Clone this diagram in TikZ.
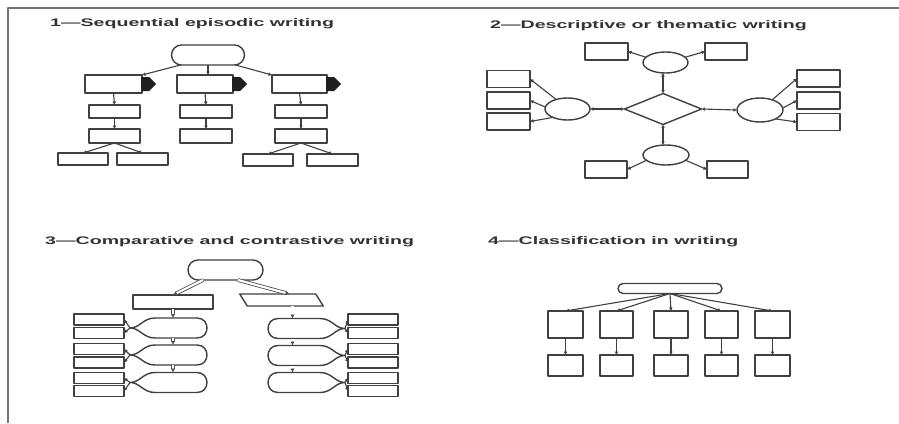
\documentclass[tikz,border=0pt]{standalone}
\usepackage{fontspec}
\newfontfamily\tfont{Liberation Sans}
\usetikzlibrary{shapes.geometric,arrows.meta,calc}
\tikzset{lobe/.pic={
  \draw[ln] (0,0) .. controls (10,0) and (13,-10) .. (25,-10) -- (67,-10)
     .. controls (80.3,-10) and (80.3,10) .. (67,10) -- (25,10)
     .. controls (13,10) and (10,0) .. (0,0) -- cycle;
  \coordinate (-tip) at (0,0);
  \node[minimum width=70, minimum height=20, inner sep=0pt, outer sep=0pt] (-body) at (42,0) {};
}}
\begin{document}
\begin{tikzpicture}[x=1pt,y=-1pt,line join=round,
  ln/.style={draw=black!75, line width=1.4pt},
  bx/.style={ln, rectangle, inner sep=0pt, outer sep=0pt},
  rbx/.style={bx, rounded corners=#1},
  ell/.style={ln, ellipse, inner sep=0pt, outer sep=0pt},
  lnk/.style={draw=black!75, line width=1.1pt, -{Latex[length=3.5pt,width=3.8pt]}},
  lnkb/.style={draw=black!75, line width=1.1pt, {Latex[length=3.5pt,width=3.8pt]}-{Latex[length=3.5pt,width=3.8pt]}},
  dbl/.style={draw=black!70, line width=0.8pt, double=white, double distance=2.2pt, -{Latex[length=4pt,width=4.5pt]}},
  ttl/.style={anchor=base west, inner sep=0pt, text=black!80, font=\tfont\bfseries\fontsize{11}{13}\selectfont},
  harrow/.style={fill=black!88}]
\useasboundingbox (0,0) rectangle (899,423);
\fill[white] (0,0) rectangle (899,423);
% frame
\draw[black!55, line width=2pt] (8,423) -- (8,8) -- (899,8);

% titles
\node[ttl] (t1) at (50,27) {\scalebox{1.78}[1]{1—Sequential episodic writing}};
\node[ttl] (t2) at (490,28) {\scalebox{1.78}[1]{2—Descriptive or thematic writing}};
\node[ttl] (t3t) at (45,244) {\scalebox{1.78}[1]{3—Comparative and contrastive writing}};
\node[ttl] (t4) at (488,244) {\scalebox{1.78}[1]{4—Classification in writing}};

% ---------- panel 1
\node[rbx=10pt, minimum width=73, minimum height=20] (p1) at (208,55) {};
\node[bx, minimum width=57, minimum height=18] (a2) at (113.5,84) {};
\node[bx, minimum width=56, minimum height=18] (b2) at (205,84) {};
\node[bx, minimum width=55, minimum height=18] (c2) at (299.5,84) {};
\node[bx, minimum width=51, minimum height=13] (a3) at (114.5,111.5) {};
\node[bx, minimum width=52, minimum height=13] (b3) at (206,111.5) {};
\node[bx, minimum width=52, minimum height=13] (c3) at (301,111.5) {};
\node[bx, minimum width=51, minimum height=14] (a4) at (114.5,136) {};
\node[bx, minimum width=52, minimum height=14] (b4) at (206,136) {};
\node[bx, minimum width=52, minimum height=14] (c4) at (301,136) {};
\node[bx, minimum width=50, minimum height=12] (a5) at (83,159) {};
\node[bx, minimum width=51, minimum height=12] (a6) at (142.5,159) {};
\node[bx, minimum width=50, minimum height=12] (c5) at (268,160) {};
\node[bx, minimum width=51, minimum height=12] (c6) at (332.5,160) {};
\foreach \n in {a2,b2,c2}
  \fill[harrow] ($(\n.east)+(-1,-7)$) -- ++(8,0) -- ++(7,7) -- ++(-7,7) -- ++(-8,0) -- cycle;
\draw[lnk] (p1.200) -- (a2.north east);
\draw[lnk] (p1.340) -- (c2.north west);
\draw[lnk] (p1.south) -- (p1.south |- b2.north);
\draw[lnk] (a2.south) -- (a3.north);
\draw[lnk] (a3.south) -- (a4.north);
\draw[lnk] (b2.south) -- (b3.north);
\draw[lnk] (b3.south) -- (b4.north);
\draw[lnk] (c2.south) -- (c3.north);
\draw[lnk] (c3.south) -- (c4.north);
\draw[lnk] (a4.south) -- (a5.north);
\draw[lnk] (a4.south) -- (a6.north);
\draw[lnk] (c4.south) -- (c5.north);
\draw[lnk] (c4.south) -- (c6.north);

% ---------- panel 2
\node[ln, diamond, minimum width=77, minimum height=31, inner sep=0pt, outer sep=0pt] (dm) at (663,109) {};
\node[ell, minimum width=45, minimum height=21] (et) at (665.5,62.5) {};
\node[ell, minimum width=46, minimum height=20] (eb) at (666,155) {};
\node[ell, minimum width=45, minimum height=22] (el) at (567.5,109) {};
\node[ell, minimum width=46, minimum height=24] (er) at (760,110) {};
\node[bx, minimum width=43, minimum height=17] (tl) at (606.5,51.5) {};
\node[bx, minimum width=42, minimum height=17] (tr) at (726,51.5) {};
\node[bx, minimum width=42, minimum height=17] (bl) at (606,169.5) {};
\node[bx, minimum width=41, minimum height=17] (br) at (727.5,169.5) {};
\node[bx, minimum width=43, minimum height=17] (lb1) at (508.5,79) {};
\node[bx, minimum width=43, minimum height=17] (lb2) at (508.5,100.5) {};
\node[bx, minimum width=43, minimum height=17] (lb3) at (508.5,121.5) {};
\node[bx, minimum width=43, minimum height=17] (rb1) at (818.5,78.5) {};
\node[bx, minimum width=43, minimum height=17] (rb2) at (818.5,100.5) {};
\node[bx, minimum width=43, minimum height=17] (rb3) at (818.5,122) {};
\draw[lnkb] (dm.north) -- (dm.north |- et.south);
\draw[lnkb] (dm.south) -- (dm.south |- eb.north);
\draw[lnkb] (dm.west) -- (el.east);
\draw[lnkb] (dm.east) -- (er.west);
\draw[lnk] (et.165) -- (tl.east);
\draw[lnk] (et.15) -- (tr.west);
\draw[lnk] (eb.195) -- (bl.east);
\draw[lnk] (eb.345) -- (br.west);
\draw[lnk] (el.140) -- (lb1.east);
\draw[lnk] (el.175) -- (lb2.east);
\draw[lnk] (el.210) -- (lb3.east);
\draw[lnk] (er.40) -- (rb1.west);
\draw[lnk] (er.5) -- (rb2.west);
\draw[lnk] (er.-30) -- (rb3.west);

% ---------- panel 3
\node[rbx=10pt, minimum width=75, minimum height=20] (t3) at (225.5,270) {};
\node[bx, minimum width=80, minimum height=14] (lr) at (173,302) {};
\node[minimum width=76, minimum height=12, inner sep=0pt, outer sep=0pt] (para) at (281.5,300) {};
\draw[ln] ($(para.north west)+(-3.75,0)$) -- ($(para.north east)+(-3.75,0)$)
   -- ($(para.south east)+(3.75,0)$) -- ($(para.south west)+(3.75,0)$) -- cycle;
\pic (la1) at (130,328) {lobe};
\pic (la2) at (130,355) {lobe};
\pic (la3) at (130,382.5) {lobe};
\pic[xscale=-1] (ra1) at (345,328.5) {lobe};
\pic[xscale=-1] (ra2) at (345,355.5) {lobe};
\pic[xscale=-1] (ra3) at (345,382.5) {lobe};
\foreach \i/\y in {1/319.5,2/333,3/349,4/362.5,5/378,6/391} {
  \node[bx, minimum width=50, minimum height=11] (lb\i x) at (99,\y) {};
  \node[bx, minimum width=50, minimum height=11] (rb\i x) at (373,\y) {};
}
\draw[lnk] (la1-tip) -- (lb1x.east);
\draw[lnk] (la1-tip) -- (lb2x.east);
\draw[lnk] (la2-tip) -- (lb3x.east);
\draw[lnk] (la2-tip) -- (lb4x.east);
\draw[lnk] (la3-tip) -- (lb5x.east);
\draw[lnk] (la3-tip) -- (lb6x.east);
\draw[lnk] (ra1-tip) -- (rb1x.west);
\draw[lnk] (ra1-tip) -- (rb2x.west);
\draw[lnk] (ra2-tip) -- (rb3x.west);
\draw[lnk] (ra2-tip) -- (rb4x.west);
\draw[lnk] (ra3-tip) -- (rb5x.west);
\draw[lnk] (ra3-tip) -- (rb6x.west);
\draw[dbl] (t3.204) -- (lr.north);
\draw[dbl] (t3.321) -- ($(para.north)+(8,0)$);
\draw[dbl] (lr.south) -- (lr.south |- la1-body.north);
\draw[dbl] (la1-body.south -| lr.south) -- (la2-body.north -| lr.south);
\draw[dbl] (la2-body.south -| lr.south) -- (la3-body.north -| lr.south);
\coordinate (hx) at ($(para.south)+(11,0)$);
\draw[dbl] (hx) -- (hx |- ra1-body.north);
\draw[dbl] (ra1-body.south -| hx) -- (ra2-body.north -| hx);
\draw[dbl] (ra2-body.south -| hx) -- (ra3-body.north -| hx);

% ---------- panel 4
\node[rbx=5pt, minimum width=104, minimum height=10] (p4) at (670,288.5) {};
\foreach \i/\x/\w in {1/565.5/35,2/616.5/33,3/671/34,4/721.5/33,5/772.5/35} {
  \node[bx, line width=1.7pt, minimum width=\w, minimum height=27] (u\i) at (\x,324.5) {};
  \node[bx, line width=1.7pt, minimum width=\w, minimum height=21] (v\i) at (\x,365.5) {};
  \draw[lnk] (p4.south) -- (u\i.north);
  \draw[lnk] (u\i.south) -- (v\i.north);
}
\end{tikzpicture}
\end{document}
